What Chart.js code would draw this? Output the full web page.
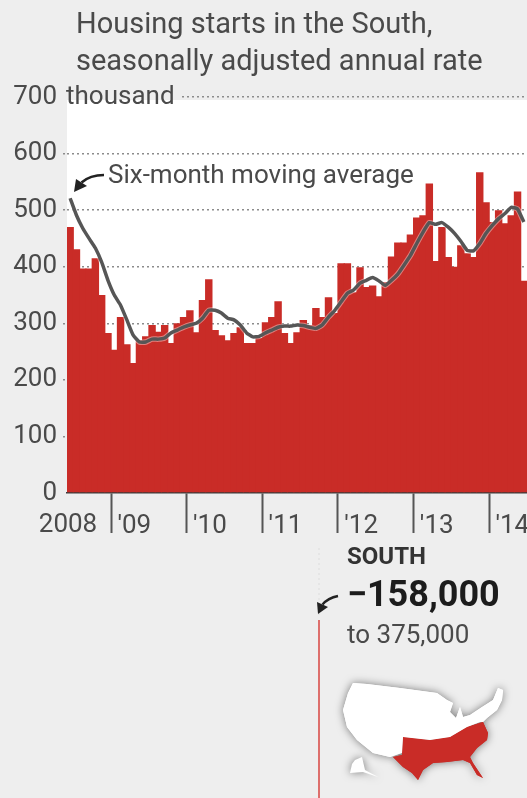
<!DOCTYPE html>
<html>
<head>
<meta charset="utf-8">
<title>Housing starts in the South</title>
<script src="https://cdn.jsdelivr.net/npm/chart.js@4"></script>
<style>
  html, body { margin: 0; padding: 0; background: #eeeeee; overflow: hidden; }
  #wrap { position: relative; width: 527px; height: 798px; }
</style>
</head>
<body>
<div id="wrap"><canvas id="chart" width="527" height="798"></canvas></div>
<script>
// Monthly, June 2008 to June 2014
const months = [
  'Jun08','Jul08','Aug08','Sep08','Oct08','Nov08','Dec08',
  'Jan09','Feb09','Mar09','Apr09','May09','Jun09','Jul09','Aug09','Sep09','Oct09','Nov09','Dec09',
  'Jan10','Feb10','Mar10','Apr10','May10','Jun10','Jul10','Aug10','Sep10','Oct10','Nov10','Dec10',
  'Jan11','Feb11','Mar11','Apr11','May11','Jun11','Jul11','Aug11','Sep11','Oct11','Nov11','Dec11',
  'Jan12','Feb12','Mar12','Apr12','May12','Jun12','Jul12','Aug12','Sep12','Oct12','Nov12','Dec12',
  'Jan13','Feb13','Mar13','Apr13','May13','Jun13','Jul13','Aug13','Sep13','Oct13','Nov13','Dec13',
  'Jan14','Feb14','Mar14','Apr14','May14','Jun14'
];

// Housing starts, thousands
const starts = [
  470, 431, 397, 397, 415, 350, 283,
  253, 311, 263, 230, 270, 277, 297, 285, 297, 265, 300, 311,
  323, 284, 341, 378, 288, 279, 270, 283, 293, 265, 265, 274,
  302, 311, 339, 283, 265, 284, 306, 297, 327, 311, 346, 318,
  406, 406, 355, 399, 364, 367, 348, 373, 418, 443, 443, 457,
  487, 491, 547, 410, 470, 417, 400, 438, 424, 417, 567, 514,
  479, 500, 477, 491, 533, 375
];

const movingAvg = [
  521, 491, 468, 450, 433, 408, 376,
  350, 332, 306, 279, 267, 267, 272, 272, 274, 283, 288, 293,
  297, 300, 309, 323, 323, 318, 309, 306, 297, 283, 276, 277,
  283, 288, 293, 295, 295, 297, 296, 293, 291, 297, 311, 323,
  338, 353, 359, 371, 376, 381, 375, 367, 376, 387, 403, 420,
  441, 461, 478, 475, 478, 470, 459, 445, 429, 428, 441, 459,
  473, 485, 494, 505, 502, 479
];

const yearLabels = { Jan09: "'09", Jan10: "'10", Jan11: "'11", Jan12: "'12", Jan13: "'13", Jan14: "'14" };
const yTicks = [0, 100, 200, 300, 400, 500, 600, 700];

const RED = '#c92c27';
const INK = '#4a4a4a';
const FONT = "Roboto, sans-serif";

function polygon(ctx, pts) {
  ctx.beginPath();
  pts.forEach((p, i) => (i ? ctx.lineTo(p[0], p[1]) : ctx.moveTo(p[0], p[1])));
  ctx.closePath();
}

function drawArrow(ctx, from, via, tip, head) {
  ctx.strokeStyle = '#222';
  ctx.lineWidth = 2.5;
  ctx.beginPath();
  ctx.moveTo(from[0], from[1]);
  ctx.quadraticCurveTo(via[0], via[1], (head[0][0] + head[1][0]) / 2, (head[0][1] + head[1][1]) / 2);
  ctx.stroke();
  ctx.fillStyle = '#222';
  polygon(ctx, [tip, head[0], head[1]]);
  ctx.fill();
}

// Small US locator map, in picture pixels
function drawMap(ctx) {
  const white = [[353,683],[367,684],[400,688],[437,693],[447,700],[453,703],[450,712],[456,718],[460,707],[463,717],[470,715],[482,707],[493,700],[498,688],[503,690],[502,700],[497,710],[487,718],[483,722],[480,722],[467,727],[450,737],[430,740],[403,737],[402,753],[390,757],[373,753],[357,740],[347,727],[343,710],[348,693]];
  const south = [[403,737],[430,740],[450,737],[467,727],[483,722],[488,733],[487,740],[477,748],[470,757],[473,763],[483,778],[477,775],[470,763],[463,760],[447,762],[433,763],[423,770],[418,780],[412,773],[403,767],[393,757],[402,755]];
  const alaska = [[352,764],[355,760],[362,757],[365,770],[378,777],[363,772],[350,773]];

  ctx.save();
  ctx.shadowColor = 'rgba(0,0,0,0.5)';
  ctx.shadowBlur = 9;
  ctx.fillStyle = '#ffffff';
  polygon(ctx, white);
  ctx.fill();
  polygon(ctx, alaska);
  ctx.fill();
  ctx.fillStyle = RED;
  polygon(ctx, south);
  ctx.fill();
  ctx.restore();
  ctx.fillStyle = RED;
  polygon(ctx, south);
  ctx.fill();
  ctx.fillStyle = '#ffffff';
  polygon(ctx, white);
  ctx.fill();
}

// White panel behind the plot
const panelPlugin = {
  id: 'panel',
  beforeDraw(chart) {
    const { ctx, chartArea: a } = chart;
    ctx.save();
    ctx.fillStyle = '#ffffff';
    ctx.fillRect(a.left, a.top + 3, a.right - a.left, a.bottom - a.top - 3);
    ctx.restore();
  },
};

// Title, unit, annotation and the South inset
const notesPlugin = {
  id: 'notes',
  afterDraw(chart) {
    const { ctx, scales } = chart;
    const y700 = scales.y.getPixelForValue(700);
    ctx.save();
    ctx.textBaseline = 'middle';
    ctx.textAlign = 'left';

    ctx.fillStyle = '#eeeeee';
    ctx.fillRect(60, y700 - 3, 122, 6);

    ctx.fillStyle = INK;
    ctx.font = `29px ${FONT}`;
    ctx.fillText('Housing starts in the South,', 76, 26);
    ctx.fillText('seasonally adjusted annual rate', 76, 63);

    ctx.font = `26px ${FONT}`;
    ctx.fillText('thousand', 66, 97);
    ctx.fillText('Six-month moving average', 108, 176);

    ctx.textAlign = 'center';
    ctx.fillText('2008', 68, 525);
    ctx.textAlign = 'left';

    drawArrow(ctx, [104, 175], [90, 175], [74, 192], [[76, 179], [87, 186]]);

    // South inset
    ctx.strokeStyle = '#dcdcdc';
    ctx.setLineDash([2, 3]);
    ctx.lineWidth = 1;
    ctx.beginPath();
    ctx.moveTo(319, 548);
    ctx.lineTo(319, 616);
    ctx.stroke();
    ctx.setLineDash([]);
    ctx.strokeStyle = '#dd6f6c';
    ctx.lineWidth = 2;
    ctx.beginPath();
    ctx.moveTo(319, 620);
    ctx.lineTo(319, 798);
    ctx.stroke();
    drawArrow(ctx, [338, 596], [328, 598], [318, 614], [[317, 602], [328, 607]]);

    ctx.fillStyle = '#333';
    ctx.font = `bold 24px ${FONT}`;
    ctx.fillText('SOUTH', 347, 558);
    ctx.fillStyle = '#1c1c1c';
    ctx.font = `bold 36px ${FONT}`;
    ctx.fillText('\u2212158,000', 347, 597);
    ctx.fillStyle = INK;
    ctx.font = `26px ${FONT}`;
    ctx.fillText('to 375,000', 347, 636);

    drawMap(ctx);
    ctx.restore();
  },
};

new Chart(document.getElementById('chart'), {
  type: 'bar',
  data: {
    labels: months,
    datasets: [
      {
        type: 'line',
        data: movingAvg,
        borderColor: '#565656',
        borderWidth: 3.5,
        pointRadius: 0,
        tension: 0.15,
        order: 0,
      },
      {
        type: 'line',
        data: movingAvg,
        borderColor: 'rgba(255,255,255,0.4)',
        borderWidth: 5.5,
        pointRadius: 0,
        tension: 0.15,
        order: 1,
      },
      {
        data: starts,
        backgroundColor: RED,
        barPercentage: 1.18, // overlap so no pale seams show between months
        categoryPercentage: 1,
        order: 2,
      },
    ],
  },
  options: {
    responsive: false,
    animation: false,
    layout: { padding: { top: 97, left: 0, right: 0, bottom: 0 } },
    plugins: { legend: { display: false }, tooltip: { enabled: false } },
    scales: {
      x: {
        afterFit(scale) { scale.height = 305; },
        border: { color: '#3a3a3a', width: 1.5 },
        grid: {
          drawOnChartArea: false,
          tickLength: 40,
          tickWidth: 2,
          tickColor: (c) => (c.tick && yearLabels[months[c.tick.value]] ? '#555' : 'transparent'),
        },
        ticks: {
          autoSkip: false,
          maxRotation: 0,
          padding: -22,
          labelOffset: 20,
          color: INK,
          font: { family: FONT, size: 26 },
          callback: (v) => yearLabels[months[v]] || '',
        },
      },
      y: {
        min: 0,
        max: 700,
        afterFit(scale) { scale.width = 67; },
        afterBuildTicks(scale) { scale.ticks = yTicks.map((value) => ({ value })); },
        border: { display: false, dash: [2, 3] },
        grid: {
          color: (c) => (c.tick && c.tick.value === 0 ? 'transparent' : '#8c8c8c'),
          lineWidth: 1.5,
          tickLength: 4,
          tickColor: (c) => (c.tick && c.tick.value === 0 ? 'transparent' : '#8c8c8c'),
          tickBorderDash: [2, 3],
        },
        ticks: {
          padding: 6,
          color: INK,
          font: { family: FONT, size: 26 },
        },
      },
    },
  },
  plugins: [panelPlugin, notesPlugin],
});
</script>
</body>
</html>
